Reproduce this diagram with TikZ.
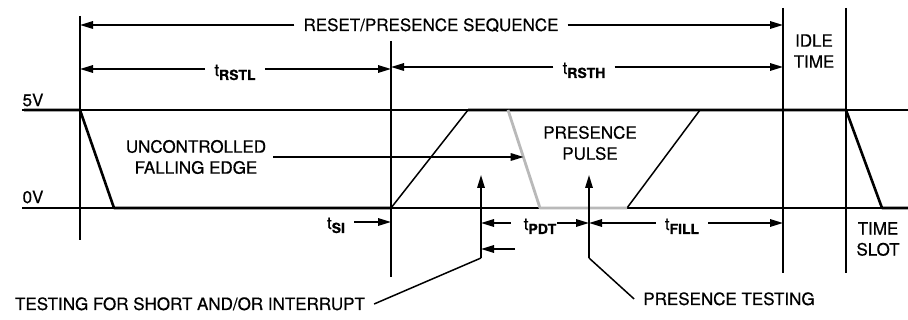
\documentclass[tikz,border=0pt]{standalone}
\usepackage{fontspec}
\setmainfont{TeX Gyre Heros}
\usetikzlibrary{arrows.meta}

\newcommand{\tsub}[1]{t\raisebox{-4pt}{\fontsize{14}{14}\selectfont\bfseries #1}}

\begin{document}
\begin{tikzpicture}[x=1pt, y=-1pt, font=\fontsize{17}{21}\selectfont\addfontfeatures{FakeBold=0.6},
    level/.style={line width=1.1pt},
    sig/.style={line width=2.6pt, line join=round},
    edge/.style={line width=1.5pt},
    tline/.style={line width=1.4pt},
    dim/.style={line width=1.6pt, -{Triangle[length=13pt, width=7.5pt]}},
    lbl/.style={inner xsep=9pt, inner ysep=0pt, text height=12pt, text depth=0pt},
    tlbl/.style={lbl, text height=14pt},
    note/.style={align=center, inner xsep=7pt, inner ysep=0pt}]

    \useasboundingbox (0,0) rectangle (908,320);

    % Define the 5V and 0V levels
    \def\yh{110}
    \def\yl{208}

    % Draw the levels
    \draw[level] (22,\yh) -- (908,\yh);
    \draw[level] (22,\yl) -- (908,\yl);
    \node (v5) at (33,100) {5V};
    \node (v0) at (33,197) {0V};

    % Draw the time markers
    \coordinate (m1t) at (80,16);   \coordinate (m1b) at (80,240);
    \coordinate (m2t) at (391,41);  \coordinate (m2b) at (391,277);
    \coordinate (m3t) at (783,8);   \coordinate (m3b) at (783,273);
    \coordinate (m4t) at (846,8);   \coordinate (m4b) at (846,273);
    \foreach \m in {m1,m2,m3,m4}
      \draw[tline] (\m t) -- (\m b);

    % Draw the waveform
    \draw[sig] (24,\yh) -- (80,\yh) -- (114,\yl) -- (391,\yl);
    \draw[edge] (391,\yl) -- (468,\yh);
    \draw[sig] (468,\yh) -- (846,\yh) -- (882,\yl) -- (908,\yl);
    \draw[edge] (627,\yl) -- (700,\yh);
    \draw[gray!55, line width=2.8pt, line join=round] (508,\yh) -- coordinate[pos=0.49] (fe) (540,\yl) -- (627,\yl);

    % Sequence and reset timing
    \node[lbl] (seq) at (431,25) {RESET/PRESENCE SEQUENCE};
    \draw[dim] (seq.west) -- (seq.west -| m1t);
    \draw[dim] (seq.east) -- (seq.east -| m3t);

    \node[tlbl] (rstl) at (235,69) {\tsub{RSTL}};
    \draw[dim] (rstl.west) -- (rstl.west -| m1t);
    \draw[dim] (rstl.east) -- (rstl.east -| m2t);
    \node[tlbl] (rsth) at (584,67) {\tsub{RSTH}};
    \draw[dim] (rsth.west) -- (rsth.west -| m2t);
    \draw[dim] (rsth.east) -- (rsth.east -| m3t);

    \node[note] (idle) at (814,51) {IDLE\\TIME};
    \node[note] (slot) at (878,239) {TIME\\SLOT};

    % Edge and pulse notes
    \node[note] (unc) at (196,157) {UNCONTROLLED\\FALLING EDGE};
    \draw[dim] (unc.east) -- (unc.east -| fe);
    \node[note] (pp) at (590,143) {PRESENCE\\PULSE};

    % Sampling points
    \coordinate (sab) at (481,258);  \coordinate (sat) at (481,175);
    \coordinate (pab) at (589,258);  \coordinate (pat) at (589,175);
    \draw[dim] (sab) -- (sat);
    \draw[dim] (pab) -- (pat);

    \node[lbl] (short) at (190,304) {TESTING FOR SHORT AND/OR INTERRUPT};
    \draw[edge] (sab) -- (short.east);
    \node[lbl] (ptest) at (729,299) {PRESENCE TESTING};
    \draw[edge] (pab) -- (ptest.west);

    % Slot timing
    \node[tlbl] (tsi) at (336,222) {\tsub{SI}};
    \draw[dim] (tsi.east) -- (tsi.east -| m2t);
    \coordinate (si) at (515,249);
    \draw[dim] (si) -- (si -| sab);

    \node[tlbl, inner xsep=1pt] (tpdt) at (540,223) {\tsub{PDT}};
    \draw[dim, shorten <=12pt] (tpdt.west) -- (tpdt.west -| sab);
    \draw[dim] (tpdt.east) -- (tpdt.east -| pab);
    \node[tlbl] (tfill) at (682,223) {\tsub{FILL}};
    \draw[dim] (tfill.west) -- (tfill.west -| pab);
    \draw[dim] (tfill.east) -- (tfill.east -| m3t);
\end{tikzpicture}
\end{document}
